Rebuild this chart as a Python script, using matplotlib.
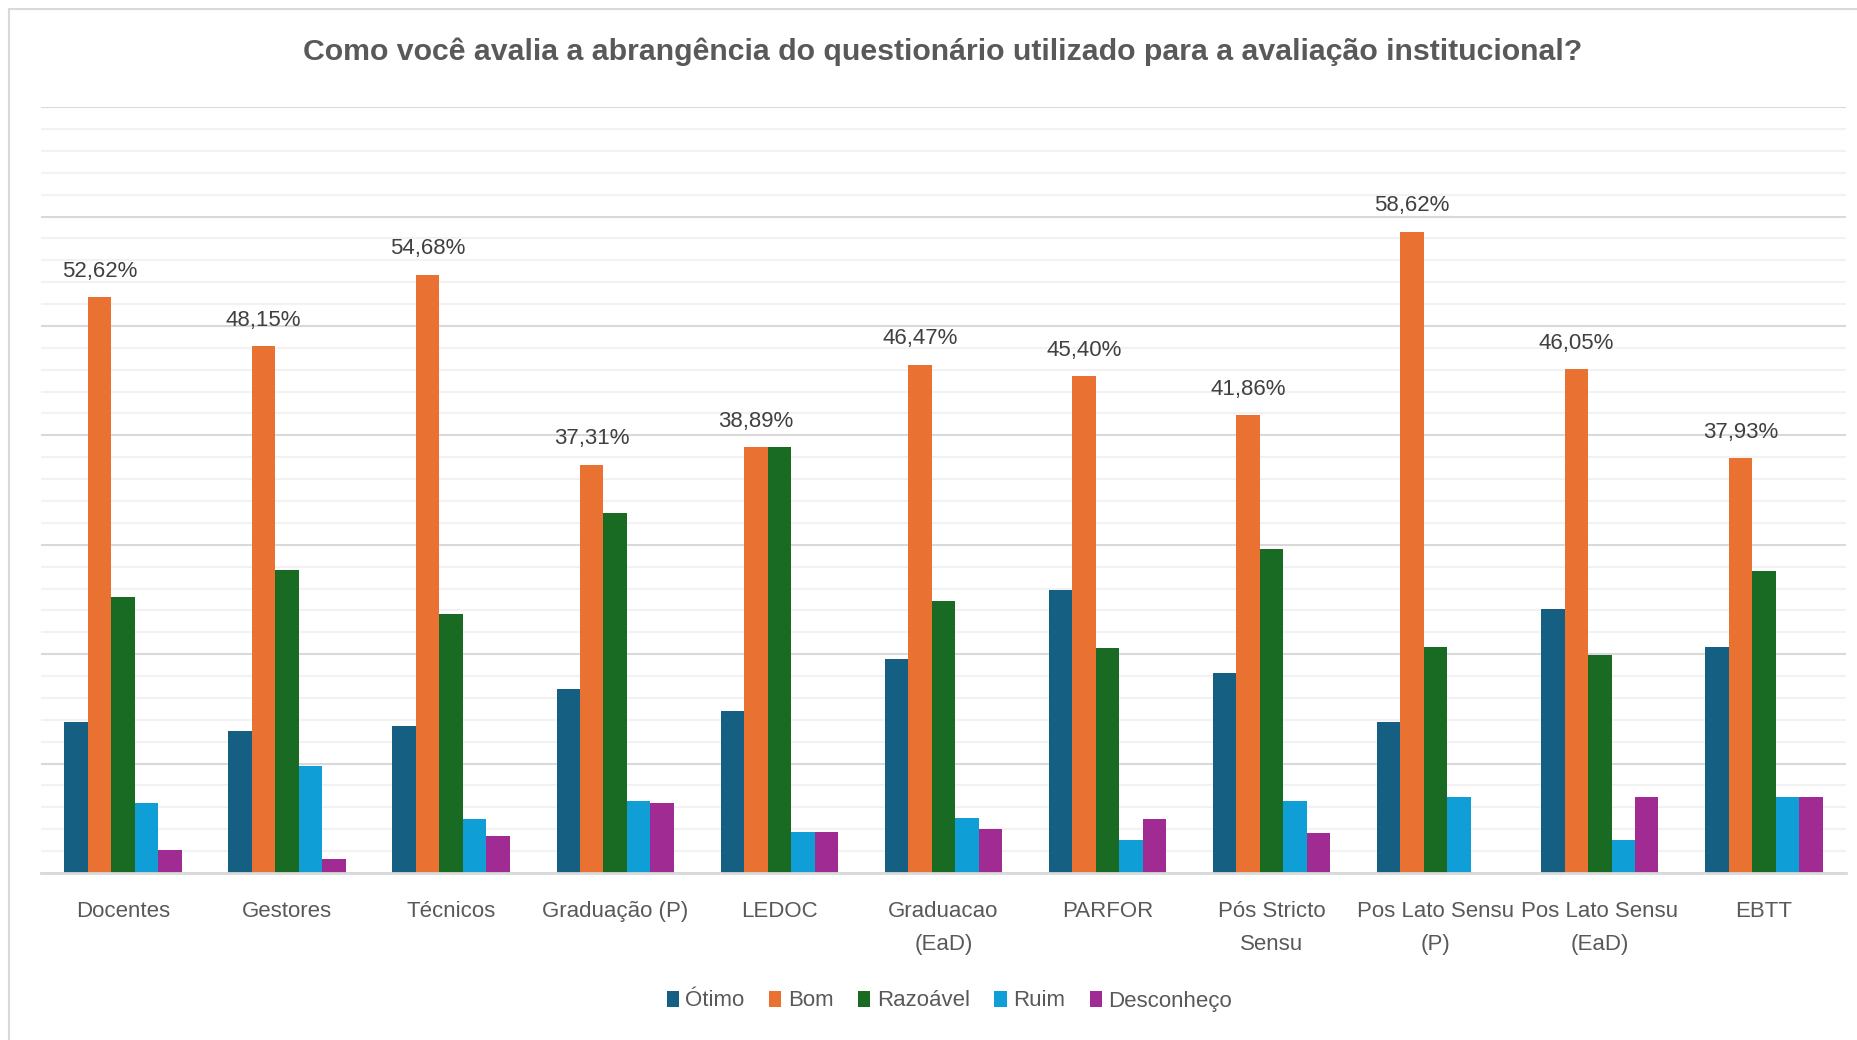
import matplotlib.pyplot as plt
import numpy as np
from matplotlib.patches import Rectangle

categorias = ['Docentes', 'Gestores', 'Técnicos', 'Graduação (P)', 'LEDOC',
              'Graduacao\n(EaD)', 'PARFOR', 'Pós Stricto\nSensu',
              'Pos Lato Sensu\n(P)', 'Pos Lato Sensu\n(EaD)', 'EBTT']

otimo = [13.8, 13.0, 13.4, 16.8, 14.81, 19.6, 25.9, 18.3, 13.79, 24.1, 20.69]
bom = [52.62, 48.15, 54.68, 37.31, 38.89, 46.47, 45.40, 41.86, 58.62, 46.05, 37.93]
razoavel = [25.2, 27.7, 23.7, 32.9, 38.89, 24.9, 20.6, 29.6, 20.69, 19.9, 27.59]
ruim = [6.4, 9.8, 4.95, 6.6, 3.70, 5.0, 3.0, 6.57, 6.90, 3.0, 6.90]
desconheco = [2.07, 1.28, 3.42, 6.4, 3.70, 4.0, 4.9, 3.67, 0, 6.97, 6.90]

series = ['Ótimo', 'Bom', 'Razoável', 'Ruim', 'Desconheço']
cores = ['#156082', '#E97132', '#196B24', '#0F9ED5', '#A02B93']

plt.rcParams['font.family'] = ['Liberation Sans', 'DejaVu Sans']

fig = plt.figure(figsize=(18.58, 10.40), dpi=100)
ax = fig.add_axes([0.022, 0.1606, 0.9715, 0.7364])

x = np.arange(len(categorias))
w = 0.143
dados = [otimo, bom, razoavel, ruim, desconheco]
for i, (vals, nome, cor) in enumerate(zip(dados, series, cores)):
    bars = ax.bar(x + (i - 2) * w, vals, w, color=cor, label=nome, zorder=3)
    if nome == 'Bom':
        for b, v in zip(bars, vals):
            ax.annotate(f'{v:.2f}%'.replace('.', ','),
                        (b.get_x() + b.get_width() / 2, v),
                        xytext=(0, 11), textcoords='offset points',
                        ha='center', va='bottom', fontsize=16, color='#404040')

ax.set_xlim(-0.5, len(categorias) - 0.5)
ax.set_ylim(0, 70)
ax.set_yticks(np.arange(0, 71, 10))
ax.set_yticks(np.arange(0, 71, 2), minor=True)
ax.grid(axis='y', which='minor', color='#F2F2F2', linewidth=1.5, zorder=0)
ax.grid(axis='y', which='major', color='#D9D9D9', linewidth=1.5, zorder=1)
ax.tick_params(axis='y', which='both', left=False, labelleft=False)
ax.set_xticks(x)
ax.set_xticklabels(categorias, fontsize=16, color='#595959', linespacing=1.75)
ax.tick_params(axis='x', length=0, pad=20)
for s in ['top', 'right', 'left']:
    ax.spines[s].set_visible(False)
ax.spines['bottom'].set_color('#D9D9D9')
ax.spines['bottom'].set_linewidth(2)
ax.spines['bottom'].set_zorder(4)

fig.text(0.5076, 0.95, 'Como você avalia a abrangência do questionário utilizado para a avaliação institucional?',
         ha='center', va='center', fontsize=21.8, fontweight='bold', color='#595959')

fig.legend(loc='center', bbox_to_anchor=(0.511, 0.0375), ncol=5, frameon=False,
           fontsize=16, handlelength=0.55, handleheight=0.7, handletextpad=0.3,
           columnspacing=1.1, labelcolor='#595959')

fig.patches.append(Rectangle((0.005, -0.2), 1.2, 1.1909, transform=fig.transFigure,
                             fill=False, edgecolor='#D9D9D9', linewidth=1.5))

plt.savefig('out.png', dpi=100)
